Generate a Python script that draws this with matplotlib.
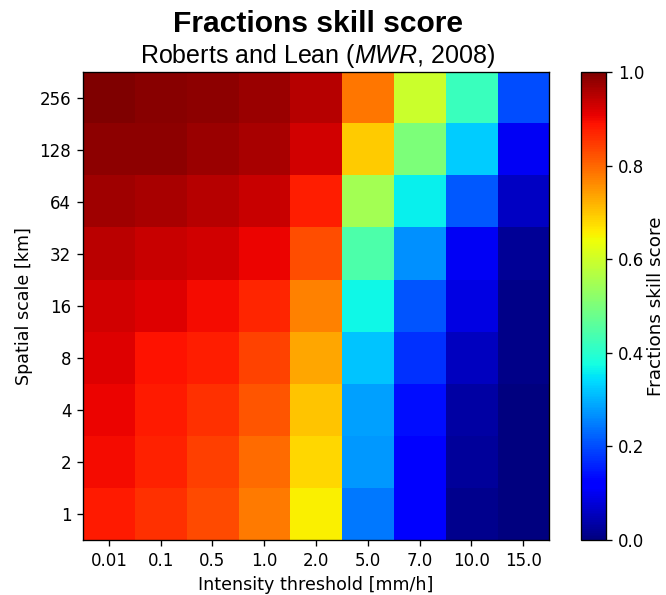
import numpy as np
import matplotlib
matplotlib.use("Agg")
import matplotlib.pyplot as plt

# intensity thresholds [mm/h] and neighbourhood sizes [km]
thresholds = ["0.01", "0.1", "0.5", "1.0", "2.0", "5.0", "7.0", "10.0", "15.0"]
scales = [1, 2, 4, 8, 16, 32, 64, 128, 256]

# FSS, one row per spatial scale (smallest first)
fss_1 = [0.880, 0.859, 0.830, 0.778, 0.655, 0.243, 0.115, 0.014, 0.000]
fss_2 = [0.895, 0.872, 0.840, 0.796, 0.681, 0.274, 0.120, 0.024, 0.000]
fss_4 = [0.905, 0.880, 0.856, 0.817, 0.702, 0.285, 0.140, 0.035, 0.000]
fss_8 = [0.916, 0.890, 0.876, 0.838, 0.732, 0.317, 0.172, 0.055, 0.010]
fss_16 = [0.927, 0.916, 0.895, 0.868, 0.770, 0.370, 0.210, 0.086, 0.010]
fss_32 = [0.948, 0.937, 0.927, 0.903, 0.826, 0.443, 0.266, 0.105, 0.022]
fss_64 = [0.972, 0.961, 0.952, 0.937, 0.876, 0.550, 0.360, 0.211, 0.062]
fss_128 = [0.986, 0.985, 0.976, 0.961, 0.927, 0.694, 0.500, 0.325, 0.105]
fss_256 = [0.998, 0.989, 0.985, 0.976, 0.952, 0.783, 0.595, 0.420, 0.203]

fss = np.array([fss_1, fss_2, fss_4, fss_8, fss_16,
                fss_32, fss_64, fss_128, fss_256])

plt.rcParams["mathtext.fontset"] = "custom"
plt.rcParams["mathtext.rm"] = "Liberation Sans"
plt.rcParams["mathtext.it"] = "Liberation Sans:italic"

fig = plt.figure(figsize=(666 / 120, 595 / 120), dpi=120)
ax = fig.add_axes([0.1246, 0.0924, 0.6997, 0.7866])
cax = fig.add_axes([0.8724, 0.0924, 0.0375, 0.7866])

im = ax.imshow(fss, cmap="jet", vmin=0, vmax=1, origin="lower",
               aspect="auto", interpolation="nearest")
ax.set_xticks(range(len(thresholds)))
ax.set_xticklabels(thresholds)
ax.set_yticks(range(len(scales)))
ax.set_yticklabels([str(s) for s in scales])
ax.set_xlabel("Intensity threshold [mm/h]", fontsize=10.5)
ax.set_ylabel("Spatial scale [km]", fontsize=10.5)

cb = fig.colorbar(im, cax=cax, ticks=[0.0, 0.2, 0.4, 0.6, 0.8, 1.0])
cb.set_label("Fractions skill score", fontsize=11, labelpad=2)

fig.text(0.477, 0.946, "Fractions skill score", ha="center", va="baseline",
         family="Liberation Sans", weight="bold", fontsize=18)
fig.text(0.477, 0.894, r"Roberts and Lean ($\mathit{MWR}$, 2008)",
         ha="center", va="baseline", family="Liberation Sans", fontsize=15)

fig.savefig("out.png", dpi=120)
